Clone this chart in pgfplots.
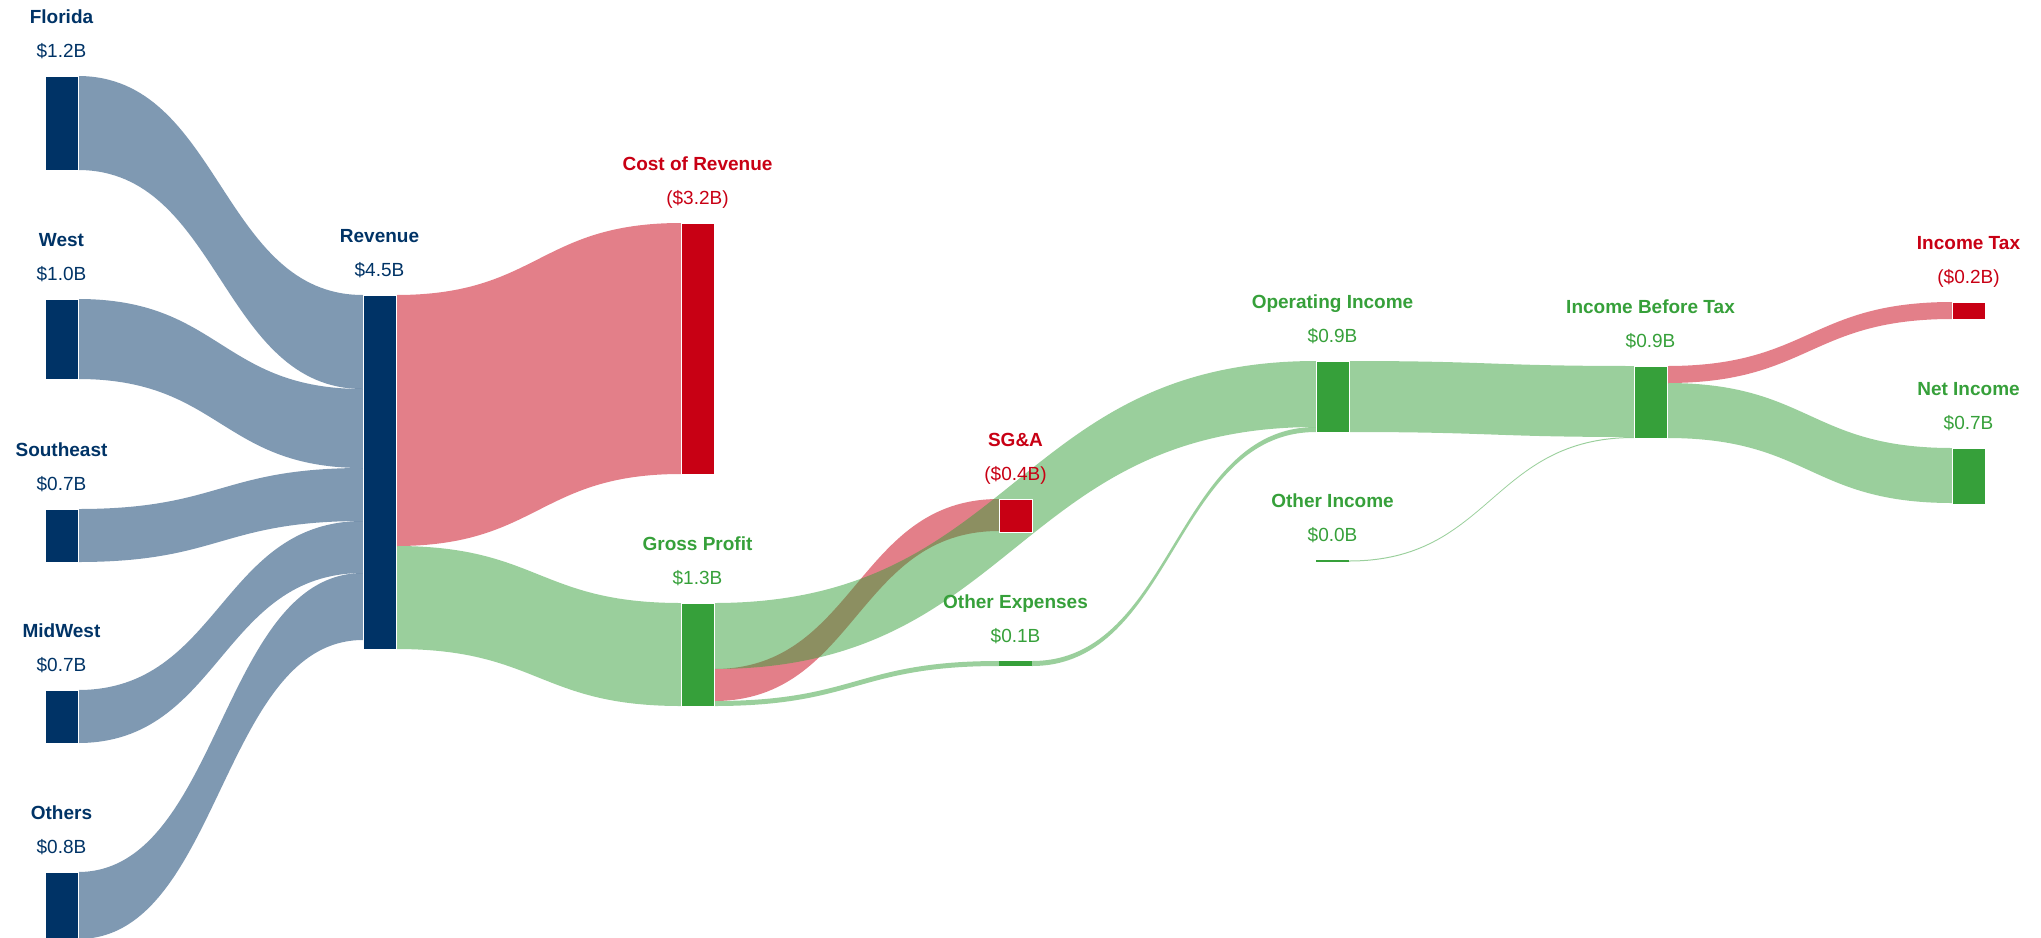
\documentclass[border=0pt]{standalone}
\usepackage{pgfplots}
\pgfplotsset{compat=1.18}
\usepackage{fontspec}
\setmainfont{Liberation Sans}
\definecolor{navy}{RGB}{0,51,102}
\definecolor{cred}{RGB}{200,0,20}
\definecolor{cgreen}{RGB}{54,160,58}
\tikzset{
    nm/.style={font=\fontsize{19}{22}\selectfont\bfseries, anchor=base},
    vl/.style={font=\fontsize{19}{22}\selectfont, anchor=base},
    lk/.style={draw=none, fill=#1, fill opacity=0.5},
    nd/.style={draw=white, line width=0.4pt, fill=#1},
}
\begin{document}
\begin{tikzpicture}
\begin{axis}[
    width=2041pt, height=937pt, scale only axis,
    xmin=0, xmax=2041, ymin=0, ymax=937,
    y dir=reverse, hide axis, clip=true,
]
% ---- links: source x, source top/bottom, target x, target top/bottom
% regions -> revenue
\addplot[lk=navy] coordinates {(78,76) (78,170)} .. controls (220.5,170) and (220.5,389) .. (363,389) -- (363,295) .. controls (220.5,295) and (220.5,76) .. (78,76) -- cycle;
\addplot[lk=navy] coordinates {(78,299) (78,379)} .. controls (220.5,379) and (220.5,468) .. (363,468) -- (363,389) .. controls (220.5,389) and (220.5,299) .. (78,299) -- cycle;
\addplot[lk=navy] coordinates {(78,509) (78,562)} .. controls (220.5,562) and (220.5,521) .. (363,521) -- (363,468) .. controls (220.5,468) and (220.5,509) .. (78,509) -- cycle;
\addplot[lk=navy] coordinates {(78,690) (78,743)} .. controls (220.5,743) and (220.5,573) .. (363,573) -- (363,521) .. controls (220.5,521) and (220.5,690) .. (78,690) -- cycle;
\addplot[lk=navy] coordinates {(78,872) (78,939)} .. controls (220.5,939) and (220.5,640) .. (363,640) -- (363,573) .. controls (220.5,573) and (220.5,872) .. (78,872) -- cycle;
% revenue -> cost of revenue, gross profit
\addplot[lk=cred] coordinates {(396,295) (396,546)} .. controls (538.5,546) and (538.5,474) .. (681,474) -- (681,223) .. controls (538.5,223) and (538.5,295) .. (396,295) -- cycle;
\addplot[lk=cgreen] coordinates {(396,546) (396,649)} .. controls (538.5,649) and (538.5,706) .. (681,706) -- (681,603) .. controls (538.5,603) and (538.5,546) .. (396,546) -- cycle;
% gross profit -> SG&A, other expenses, operating income
\addplot[lk=cred] coordinates {(714,669) (714,701)} .. controls (856.5,701) and (856.5,531) .. (999,531) -- (999,499) .. controls (856.5,499) and (856.5,669) .. (714,669) -- cycle;
\addplot[lk=cgreen] coordinates {(714,701) (714,706)} .. controls (856.5,706) and (856.5,666) .. (999,666) -- (999,661) .. controls (856.5,661) and (856.5,701) .. (714,701) -- cycle;
\addplot[lk=cgreen] coordinates {(714,603) (714,669)} .. controls (1015,669) and (1015,427) .. (1316,427) -- (1316,361) .. controls (1015,361) and (1015,603) .. (714,603) -- cycle;
% other expenses -> operating income
\addplot[lk=cgreen] coordinates {(1032,661) (1032,666)} .. controls (1174,666) and (1174,432) .. (1316,432) -- (1316,427) .. controls (1174,427) and (1174,661) .. (1032,661) -- cycle;
% operating income, other income -> income before tax
\addplot[lk=cgreen] coordinates {(1349,361) (1349,432)} .. controls (1491.5,432) and (1491.5,437) .. (1634,437) -- (1634,366) .. controls (1491.5,366) and (1491.5,361) .. (1349,361) -- cycle;
\addplot[lk=cgreen] coordinates {(1349,560.5) (1349,561.5)} .. controls (1491.5,561.5) and (1491.5,438) .. (1634,438) -- (1634,437) .. controls (1491.5,437) and (1491.5,560.5) .. (1349,560.5) -- cycle;
% income before tax -> tax, net income
\addplot[lk=cred] coordinates {(1667,366) (1667,383)} .. controls (1809.5,383) and (1809.5,319) .. (1952,319) -- (1952,302) .. controls (1809.5,302) and (1809.5,366) .. (1667,366) -- cycle;
\addplot[lk=cgreen] coordinates {(1667,383) (1667,438)} .. controls (1809.5,438) and (1809.5,503) .. (1952,503) -- (1952,448) .. controls (1809.5,448) and (1809.5,383) .. (1667,383) -- cycle;

% ---- nodes
\addplot[nd=navy] coordinates {(45,76) (78,76) (78,170) (45,170)} -- cycle;
\addplot[nd=navy] coordinates {(45,299) (78,299) (78,379) (45,379)} -- cycle;
\addplot[nd=navy] coordinates {(45,509) (78,509) (78,562) (45,562)} -- cycle;
\addplot[nd=navy] coordinates {(45,690) (78,690) (78,743) (45,743)} -- cycle;
\addplot[nd=navy] coordinates {(45,872) (78,872) (78,939) (45,939)} -- cycle;
\addplot[nd=navy] coordinates {(363,295) (396,295) (396,649) (363,649)} -- cycle;
\addplot[nd=cred] coordinates {(681,223) (714,223) (714,474) (681,474)} -- cycle;
\addplot[nd=cgreen] coordinates {(681,603) (714,603) (714,706) (681,706)} -- cycle;
\addplot[nd=cred] coordinates {(999,499) (1032,499) (1032,532) (999,532)} -- cycle;
\addplot[fill=cgreen, draw=none] coordinates {(999,661) (1032,661) (1032,666) (999,666)} -- cycle;
\addplot[nd=cgreen] coordinates {(1316,361) (1349,361) (1349,432) (1316,432)} -- cycle;
\addplot[fill=cgreen, draw=none] coordinates {(1316,560) (1349,560) (1349,562) (1316,562)} -- cycle;
\addplot[nd=cgreen] coordinates {(1634,366) (1667,366) (1667,438) (1634,438)} -- cycle;
\addplot[nd=cred] coordinates {(1952,302) (1985,302) (1985,319) (1952,319)} -- cycle;
\addplot[nd=cgreen] coordinates {(1952,448) (1985,448) (1985,504) (1952,504)} -- cycle;

% ---- labels
\node[nm, text=navy] at (axis cs:61.5,23) {Florida};
\node[vl, text=navy] at (axis cs:61.5,57) {\$1.2B};
\node[nm, text=navy] at (axis cs:61.5,246) {West};
\node[vl, text=navy] at (axis cs:61.5,280) {\$1.0B};
\node[nm, text=navy] at (axis cs:61.5,456) {Southeast};
\node[vl, text=navy] at (axis cs:61.5,490) {\$0.7B};
\node[nm, text=navy] at (axis cs:61.5,637) {MidWest};
\node[vl, text=navy] at (axis cs:61.5,671) {\$0.7B};
\node[nm, text=navy] at (axis cs:61.5,819) {Others};
\node[vl, text=navy] at (axis cs:61.5,853) {\$0.8B};
\node[nm, text=navy] at (axis cs:379.5,242) {Revenue};
\node[vl, text=navy] at (axis cs:379.5,276) {\$4.5B};
\node[nm, text=cred] at (axis cs:697.5,170) {Cost of Revenue};
\node[vl, text=cred] at (axis cs:697.5,204) {(\$3.2B)};
\node[nm, text=cgreen] at (axis cs:697.5,550) {Gross Profit};
\node[vl, text=cgreen] at (axis cs:697.5,584) {\$1.3B};
\node[nm, text=cred] at (axis cs:1015.5,446) {SG\&A};
\node[vl, text=cred] at (axis cs:1015.5,480) {(\$0.4B)};
\node[nm, text=cgreen] at (axis cs:1015.5,608) {Other Expenses};
\node[vl, text=cgreen] at (axis cs:1015.5,642) {\$0.1B};
\node[nm, text=cgreen] at (axis cs:1332.5,308) {Operating Income};
\node[vl, text=cgreen] at (axis cs:1332.5,342) {\$0.9B};
\node[nm, text=cgreen] at (axis cs:1332.5,507) {Other Income};
\node[vl, text=cgreen] at (axis cs:1332.5,541) {\$0.0B};
\node[nm, text=cgreen] at (axis cs:1650.5,313) {Income Before Tax};
\node[vl, text=cgreen] at (axis cs:1650.5,347) {\$0.9B};
\node[nm, text=cred] at (axis cs:1968.5,249) {Income Tax};
\node[vl, text=cred] at (axis cs:1968.5,283) {(\$0.2B)};
\node[nm, text=cgreen] at (axis cs:1968.5,395) {Net Income};
\node[vl, text=cgreen] at (axis cs:1968.5,429) {\$0.7B};
\end{axis}
% keep the page the size of the full plot area
\path (current axis.south west) rectangle (current axis.north east);
\end{tikzpicture}
\end{document}
